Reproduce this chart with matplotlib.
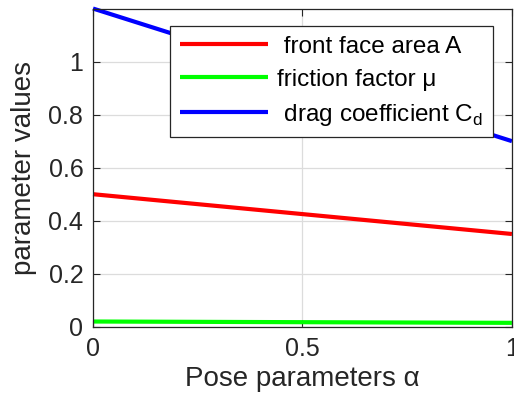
# Pose parameter dependence of aerodynamic coefficients
import numpy as np
import matplotlib.pyplot as plt

alpha = [0.0, 1.0]
front_area = [0.50, 0.35]
friction = [0.020, 0.015]
drag_coeff = [1.20, 0.70]

labels = [' front face area A', 'friction factor \u03bc', ' drag coefficient C$_\\mathregular{d}$']
colors = ['#ff0000', '#00ff00', '#0000ff']

plt.rcParams['font.family'] = ['Liberation Sans', 'DejaVu Sans']
plt.rcParams['mathtext.fontset'] = 'custom'
plt.rcParams['mathtext.rm'] = 'Liberation Sans'

fig = plt.figure(figsize=(5.14, 4.07), dpi=100)
ax = fig.add_axes([0.181, 0.197, 0.815, 0.782])

for y, c, lab in zip([front_area, friction, drag_coeff], colors, labels):
    ax.plot(alpha, y, color=c, lw=3, label=lab, clip_on=False, solid_capstyle='butt')

ax.set_xlim(0, 1)
ax.set_ylim(0, 1.2)
ax.set_xticks([0, 0.5, 1])
ax.set_xticklabels(['0', '0.5', '1'])
ax.set_yticks([0, 0.2, 0.4, 0.6, 0.8, 1.0])
ax.set_yticklabels(['0', '0.2', '0.4', '0.6', '0.8', '1'])

ax.grid(True, color='#dcdcdc', lw=0.9)
ax.set_axisbelow(True)
ax.tick_params(direction='in', top=True, right=True, length=5, width=0.8,
               labelsize=18, colors='#262626', pad=7)
for s in ax.spines.values():
    s.set_color('#262626')
    s.set_linewidth(0.9)

ax.set_xlabel('Pose parameters \u03b1', fontsize=20, color='#262626', labelpad=4)
ax.set_ylabel('parameter values', fontsize=20, color='#262626', labelpad=8)

leg = ax.legend(loc='upper right', bbox_to_anchor=(0.955, 0.945), borderaxespad=0,
                fontsize=17.5, handlelength=3.6, handletextpad=0.4, labelspacing=0.45,
                fancybox=False, framealpha=1, edgecolor='#262626', borderpad=0.4)
leg.get_frame().set_linewidth(0.9)

fig.savefig('out.png', dpi=100)
